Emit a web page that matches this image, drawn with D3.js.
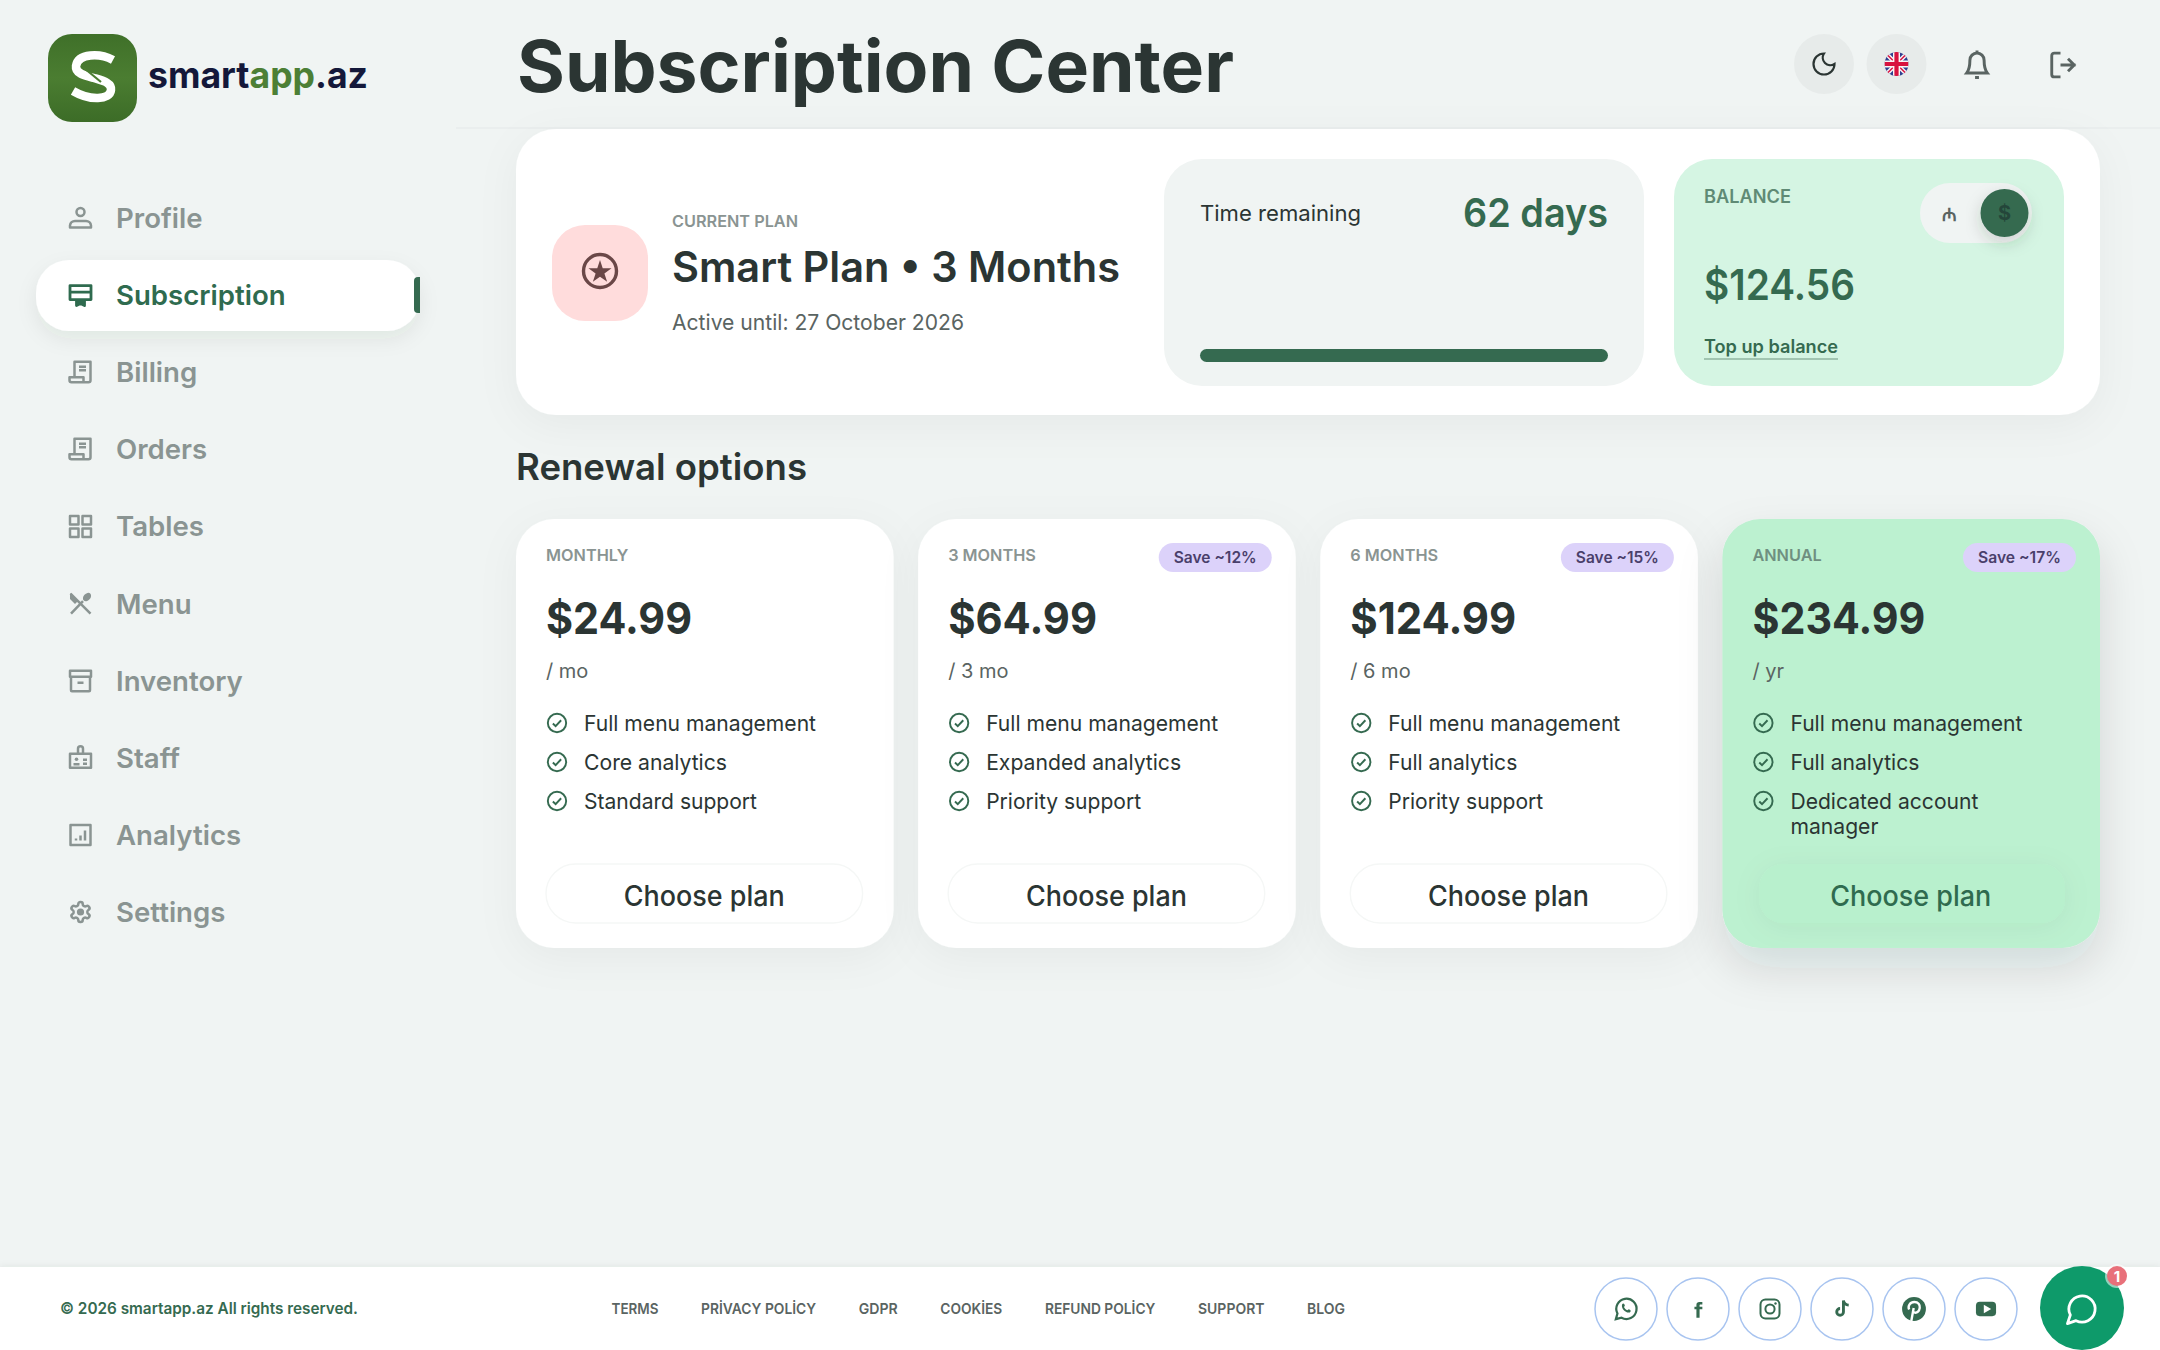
<!DOCTYPE html>
<html>
<head>
<meta charset="utf-8">
<title>Subscription Center</title>
<script src="https://cdn.jsdelivr.net/npm/d3@7"></script>
<style>
  html, body { margin: 0; padding: 0; background: #f0f4f3; }
  svg { display: block; }
  text { font-family: Inter, "Noto Sans", sans-serif; }
</style>
</head>
<body>
<div id="container"></div>
<script>
/* DATA */
const navItems = ["Profile", "Subscription", "Billing", "Orders", "Tables", "Menu", "Inventory", "Staff", "Analytics", "Settings"];
const activeNav = "Subscription";

const planKeys = ["monthly", "quarter", "half", "annual"];
const planLabels = ["MONTHLY", "3 MONTHS", "6 MONTHS", "ANNUAL"];
const planPrices = [24.99, 64.99, 124.99, 234.99];
const planPeriods = ["/ mo", "/ 3 mo", "/ 6 mo", "/ yr"];
const planSaves = [null, "Save ~12%", "Save ~15%", "Save ~17%"];
const planFeatures = [
  ["Full menu management", "Core analytics", "Standard support"],
  ["Full menu management", "Expanded analytics", "Priority support"],
  ["Full menu management", "Full analytics", "Priority support"],
  ["Full menu management", "Full analytics", "Dedicated account|manager"]
];

const daysRemaining = 62;
const daysTotal = 62;
const balance = 124.56;

const footerLinks = ["TERMS", "PRİVACY POLİCY", "GDPR", "COOKİES", "REFUND POLİCY", "SUPPORT", "BLOG"];
const socials = ["whatsapp", "facebook", "instagram", "tiktok", "pinterest", "youtube"];

/* CONSTANTS */
const width = 2160, height = 1350;
const ink = "#2b3533", grey = "#8a9492", mid = "#5a6462", green = "#356a50";
const money = d3.format("$.2f");

// nav icons are drawn on a 24 box
const gearPath = "M12.22 2h-.44a2 2 0 0 0-2 2v.18a2 2 0 0 1-1 1.73l-.43.25a2 2 0 0 1-2 0l-.15-.08a2 2 0 0 0-2.73.73l-.22.38a2 2 0 0 0 .73 2.73l.15.1a2 2 0 0 1 1 1.72v.51a2 2 0 0 1-1 1.74l-.15.09a2 2 0 0 0-.73 2.73l.22.38a2 2 0 0 0 2.73.73l.15-.08a2 2 0 0 1 2 0l.43.25a2 2 0 0 1 1 1.73V20a2 2 0 0 0 2 2h.44a2 2 0 0 0 2-2v-.18a2 2 0 0 1 1-1.73l.43-.25a2 2 0 0 1 2 0l.15.08a2 2 0 0 0 2.73-.73l.22-.39a2 2 0 0 0-.73-2.73l-.15-.08a2 2 0 0 1-1-1.74v-.5a2 2 0 0 1 1-1.74l.15-.09a2 2 0 0 0 .73-2.73l-.22-.38a2 2 0 0 0-2.73-.73l-.15.08a2 2 0 0 1-2 0l-.43-.25a2 2 0 0 1-1-1.73V4a2 2 0 0 0-2-2z";
const receipt = "M6 1.500h16v18.500a2 2 0 0 1-2 2H3a2 2 0 0 1-2-2v-3h5zM1 17h14v4.500M10.500 6.500h7M10.500 10h7";
const navIcons = {
  Profile: "M12 2a4 4 0 1 1 0 8a4 4 0 1 1 0-8zM1.500 21.500v-2a5 5 0 0 1 5-4.500h11a5 5 0 0 1 5 4.500v2z",
  Subscription: "M1.500 2.500h21v14h-21zM1.500 9h21M8 16.500v6l4-2l4 2v-6",
  Billing: receipt,
  Orders: receipt,
  Tables: "M1.500 1.500h8.500v8.500h-8.500zM14 1.500h8.500v8.500h-8.500zM1.500 14h8.500v8.500h-8.500zM14 14h8.500v8.500h-8.500z",
  Menu: "M2 2L22 22M2.500 22L14.500 9.500",
  Inventory: "M1.500 2h21v6h-21zM2.500 8v13.500a1 1 0 0 0 1 1h17a1 1 0 0 0 1-1V8M9 14h6",
  Staff: "M1.500 8h21v14h-21zM9.500 8V3a2.500 2.500 0 0 1 5 0v5M5 18.500h6M14.500 14h4M14.500 18h4",
  Analytics: "M2 2h20v20h-20zM7.500 17.500v-2M12 17.500v-5M16.500 17.500V7.500",
  Settings: gearPath
};

const socialIcons = {
  whatsapp: g => {
    g.append("path").attr("d", "M3 21l1.400-5A9 9 0 1 1 8 19.700z").attr("fill", "none").attr("stroke", green).attr("stroke-width", 2);
    g.append("path").attr("d", "M8.500 8c1-1.500 2-.8 2.500 1l-.8 1.200c.6 1.400 1.600 2.300 3 3l1.200-.9c1.800.6 2.400 1.600 1 2.700c-3.200 1.200-8-3.400-6.900-7z").attr("fill", green);
  },
  facebook: g => g.append("path").attr("d", "M14 9h3.500v3.400H14V23h-4V12.400H7.500V9H10V6.500C10 4 11.500 3 13.600 3h3.900v3.200h-2.200c-1 0-1.300.4-1.300 1.300z").attr("fill", green),
  instagram: g => {
    g.append("rect").attr("x", 2.5).attr("y", 2.5).attr("width", 19).attr("height", 19).attr("rx", 5).attr("fill", "none").attr("stroke", green).attr("stroke-width", 2);
    g.append("circle").attr("cx", 12).attr("cy", 12).attr("r", 4.6).attr("fill", "none").attr("stroke", green).attr("stroke-width", 2);
    g.append("circle").attr("cx", 17.5).attr("cy", 6.5).attr("r", 1.2).attr("fill", green);
  },
  tiktok: g => g.append("path").attr("d", "M13.500 3v12a3.500 3.500 0 1 1-3.500-3.500M13.500 3c.5 3 2.500 4.800 5.500 5").attr("fill", "none").attr("stroke", green).attr("stroke-width", 3),
  pinterest: g => {
    g.append("circle").attr("cx", 12).attr("cy", 12).attr("r", 11).attr("fill", green);
    g.append("path").attr("d", "M9.500 23l2.200-12M7.500 12.500c-1.500-3.500 1-7 4.800-7c3.600 0 5.400 2.500 5 5.400c-.4 3-2.400 4.800-4.500 4.500c-1.200-.2-1.700-1-1.900-1.600").attr("fill", "none").attr("stroke", "#fff").attr("stroke-width", 2.2);
  },
  youtube: g => {
    g.append("rect").attr("x", 1.5).attr("y", 4.5).attr("width", 21).attr("height", 15).attr("rx", 4).attr("fill", green);
    g.append("path").attr("d", d3.symbol(d3.symbolTriangle, 34)()).attr("transform", "translate(12.3,12) rotate(90)").attr("fill", "#fff");
  }
};

/* SCALES */
const navY = d3.scalePoint().domain(navItems).range([218, 912]);
const planX = d3.scaleBand().domain(planKeys).range([516, 2100]).paddingInner(0.061);
const featureY = d3.scalePoint().domain([0, 1, 2]).range([723, 801]);
const progressX = d3.scaleLinear().domain([0, daysTotal]).range([1200, 1608]);
const socialX = d3.scalePoint().domain(socials).range([1626, 1986]);
// widths of the footer links
const linkWidths = [47, 115, 39, 62, 110.5, 66.5, 38];
const linkGap = 42.6;

/* SVG */
const svg = d3.select("#container").append("svg")
  .attr("width", width)
  .attr("height", height)
  .attr("viewBox", `0 0 ${width} ${height}`);

const defs = svg.append("defs");
function shadow(id, dy, blur, op) {
  defs.append("filter").attr("id", id)
    .attr("x", "-30%").attr("y", "-30%").attr("width", "160%").attr("height", "170%")
    .append("feDropShadow")
    .attr("dx", 0).attr("dy", dy).attr("stdDeviation", blur)
    .attr("flood-color", "#1c3a2e").attr("flood-opacity", op);
}
shadow("cardShadow", 10, 20, 0.045);
shadow("annualShadow", 20, 22, 0.13);
shadow("pillShadow", 8, 10, 0.07);
shadow("knobShadow", 6, 8, 0.18);
shadow("btnShadow", 4, 14, 0.05);
shadow("footShadow", -1, 3, 0.06);

const tile = defs.append("linearGradient").attr("id", "tileFill").attr("x1", 0).attr("x2", 0).attr("y1", 0).attr("y2", 1);
tile.append("stop").attr("offset", "0%").attr("stop-color", "#3f7029");
tile.append("stop").attr("offset", "50%").attr("stop-color", "#4b7d31");
tile.append("stop").attr("offset", "100%").attr("stop-color", "#3c6c27");

defs.append("clipPath").attr("id", "flagClip").append("circle").attr("cx", 12).attr("cy", 12).attr("r", 12);

// little helper for every label, w squeezes the text to the width seen in the picture
function label(parent, x, y, str, o) {
  const t = parent.append("text")
    .attr("x", x).attr("y", y)
    .attr("font-size", o.size)
    .attr("font-weight", o.weight || 400)
    .attr("fill", o.fill || ink)
    .attr("text-anchor", o.anchor || "start")
    .text(str);
  if (o.w) t.attr("textLength", o.w).attr("lengthAdjust", "spacingAndGlyphs");
  return t;
}

function icon(parent, x, y, size, box = 24) {
  return parent.append("g").attr("transform", `translate(${x - size / 2},${y - size / 2}) scale(${size / box})`);
}

/* BACKGROUND */
svg.append("rect").attr("width", width).attr("height", height).attr("fill", "#f0f4f3");
svg.append("line").attr("x1", 456).attr("x2", width).attr("y1", 128).attr("y2", 128).attr("stroke", "#e9edec").attr("stroke-width", 1.5);

/* LOGO */
const logo = svg.append("g");
logo.append("rect").attr("x", 48).attr("y", 34).attr("width", 89).attr("height", 88).attr("rx", 24).attr("fill", "url(#tileFill)");
logo.append("path")
  .attr("d", "M113 60C100 53 78 53 76 66C75 74 86 76 94 78C104 81 112 83 111 90C110 100 90 101 73 91")
  .attr("fill", "none").attr("stroke", "#fff").attr("stroke-width", 8.5);
logo.append("path").attr("d", "M84 68L101 82").attr("stroke", "#4b7d31").attr("stroke-width", 2.2);
const logoText = label(logo, 148, 88, null, { size: 36, weight: 700, fill: "#14183a", w: 220 });
logoText.append("tspan").text("smart");
logoText.append("tspan").attr("fill", "#4c7f35").text("app");
logoText.append("tspan").text(".az");

/* SIDEBAR */
svg.append("rect").attr("x", 36).attr("y", 260).attr("width", 384).attr("height", 71).attr("rx", 33)
  .attr("fill", "#fff").attr("filter", "url(#pillShadow)");
svg.append("path").attr("d", "M420 277h-2a4 4 0 0 0-4 4v28a4 4 0 0 0 4 4h2z").attr("fill", green);

const nav = svg.selectAll("g.nav")
  .data(navItems)
  .join("g")
  .attr("class", "nav");

nav.each(function (d) {
  const g = d3.select(this);
  const on = d === activeNav;
  const col = on ? "#2f6b4f" : grey;
  const ic = icon(g, 80.5, navY(d), 24);
  ic.append("path").attr("d", navIcons[d])
    .attr("fill", "none").attr("stroke", col).attr("stroke-width", on ? 2.8 : 2.5).attr("stroke-linejoin", "round");
  if (d === "Subscription") ic.append("path").attr("d", "M8 17h8v6l-4-2l-4 2z").attr("fill", col);
  if (d === "Settings") ic.append("circle").attr("cx", 12).attr("cy", 12).attr("r", 3.6).attr("fill", col);
  if (d === "Menu") {
    ic.append("ellipse").attr("cx", 18.5).attr("cy", 5.5).attr("rx", 3.4).attr("ry", 4.8).attr("transform", "rotate(42 18.5 5.5)").attr("fill", col);
    ic.append("path").attr("d", "M1.500 1.500L9.500 9.500L6.500 12.500L1.500 7.500z").attr("fill", col);
  }
  if (d === "Staff") ic.append("circle").attr("cx", 8).attr("cy", 13.5).attr("r", 1.8).attr("fill", col);
  label(g, 116, navY(d) + 10, d, { size: 27.6, weight: 600, fill: col });
});

/* HEADER */
label(svg, 517, 92, "Subscription Center", { size: 72, weight: 700, w: 717 });

const headerBtns = d3.scalePoint().domain(["moon", "flag"]).range([1824, 1896.5]);
svg.selectAll("circle.hbtn").data(headerBtns.domain()).join("circle")
  .attr("class", "hbtn")
  .attr("cx", d => headerBtns(d)).attr("cy", 64).attr("r", 30).attr("fill", "#e7ebea");
icon(svg, headerBtns("moon"), 64, 28).append("path")
  .attr("d", "M12 3a6.500 6.500 0 0 0 9 9a9 9 0 1 1-9-9z").attr("fill", "none").attr("stroke", ink).attr("stroke-width", 1.9);

const flag = icon(svg, headerBtns("flag"), 64, 24).append("g").attr("clip-path", "url(#flagClip)");
flag.append("rect").attr("width", 24).attr("height", 24).attr("fill", "#2f3f8f");
flag.append("path").attr("d", "M1 1L23 23M23 1L1 23").attr("stroke", "#f8f5f6").attr("stroke-width", 4.4);
flag.append("path").attr("d", "M1 1L23 23M23 1L1 23").attr("stroke", "#d8123f").attr("stroke-width", 1.5);
flag.append("path").attr("d", "M12 0V24M0 12H24").attr("stroke", "#f8f5f6").attr("stroke-width", 7);
flag.append("path").attr("d", "M12 0V24M0 12H24").attr("stroke", "#d8123f").attr("stroke-width", 4.2);

const bell = icon(svg, 1977, 64, 31);
bell.append("path").attr("d", "M6.500 9a5.500 5.500 0 0 1 11 0c0 5 1 8 2.500 10H4c1.500-2 2.500-5 2.500-10zM12 3.500V1.500M10.500 22.500h3")
  .attr("fill", "none").attr("stroke", mid).attr("stroke-width", 2.3);

const door = icon(svg, 2063, 65, 30);
door.append("path").attr("d", "M10 2.500H5a2 2 0 0 0-2 2v15a2 2 0 0 0 2 2h5M16 7l5 5-5 5M22 12H10")
  .attr("fill", "none").attr("stroke", mid).attr("stroke-width", 2.3);

/* CURRENT PLAN */
svg.append("rect").attr("x", 516).attr("y", 129).attr("width", 1584).attr("height", 286).attr("rx", 40)
  .attr("fill", "#fff").attr("filter", "url(#cardShadow)");
svg.append("rect").attr("x", 552).attr("y", 225).attr("width", 96).attr("height", 96).attr("rx", 33).attr("fill", "#ffdcdc");
svg.append("circle").attr("cx", 600).attr("cy", 271).attr("r", 16.5).attr("fill", "none").attr("stroke", "#6a4747").attr("stroke-width", 3.4);
svg.append("path").attr("d", d3.symbol(d3.symbolStar, 165)()).attr("transform", "translate(600,272)").attr("fill", "#6a4747");

label(svg, 672, 227, "CURRENT PLAN", { size: 16, weight: 600, fill: grey, w: 126 });
label(svg, 672, 282, "Smart Plan • 3 Months", { size: 42, weight: 600, w: 448 });
label(svg, 672, 330, "Active until: 27 October 2026", { size: 22, fill: mid, w: 292 });

/* TIME REMAINING */
svg.append("rect").attr("x", 1164).attr("y", 159).attr("width", 480).attr("height", 227).attr("rx", 38).attr("fill", "#f0f4f3");
label(svg, 1200, 221, "Time remaining", { size: 22, w: 161 });
label(svg, 1608, 227, `${daysRemaining} days`, { size: 40, weight: 600, fill: green, anchor: "end", w: 145 });
svg.append("rect").attr("x", progressX(0)).attr("y", 349).attr("width", progressX(daysRemaining) - progressX(0)).attr("height", 13).attr("rx", 6.5).attr("fill", green);

/* BALANCE */
svg.append("rect").attr("x", 1674).attr("y", 159).attr("width", 390).attr("height", 227).attr("rx", 38).attr("fill", "#d5f5e3");
label(svg, 1704, 203, "BALANCE", { size: 18, weight: 600, fill: "#5f8a75", w: 87 });
svg.append("rect").attr("x", 1920).attr("y", 183).attr("width", 112).attr("height", 60).attr("rx", 30).attr("fill", "#f0f4f3");
svg.append("circle").attr("cx", 2004.5).attr("cy", 213).attr("r", 24).attr("fill", green).attr("filter", "url(#knobShadow)");
label(svg, 2004.5, 220, "$", { size: 20, weight: 700, fill: "#24463a", anchor: "middle" });
label(svg, 1949.5, 221, "₼", { size: 18, weight: 700, fill: mid, anchor: "middle" }).style("font-family", "'DejaVu Sans'");
label(svg, 1704, 300, money(balance), { size: 42, weight: 600, fill: green, w: 151 });
label(svg, 1704, 353, "Top up balance", { size: 18, weight: 600, fill: green, w: 134 });
svg.append("line").attr("x1", 1704).attr("x2", 1838).attr("y1", 359).attr("y2", 359).attr("stroke", "#8fb5a1").attr("stroke-width", 1.4);

/* RENEWAL OPTIONS */
label(svg, 516, 480, "Renewal options", { size: 37, weight: 600, w: 291 });

const cards = svg.selectAll("g.card")
  .data(planKeys)
  .join("g")
  .attr("class", "card")
  .attr("transform", d => `translate(${planX(d)},519)`);

const featureWidths = {
  "Full menu management": 232, "Core analytics": 143, "Standard support": 173,
  "Expanded analytics": 195, "Priority support": 155, "Full analytics": 129,
  "Dedicated account": 188, "manager": 88
};
const priceWidths = [146, 149, 166, 173];

cards.each(function (key, i) {
  const g = d3.select(this);
  const annual = key === "annual";
  const w = planX.bandwidth();
  g.append("rect").attr("width", w).attr("height", 429).attr("rx", 38)
    .attr("fill", annual ? "#bcf1d0" : "#fff")
    .attr("filter", annual ? "url(#annualShadow)" : "url(#cardShadow)");

  label(g, 30, 41.5, planLabels[i], { size: 16.3, weight: 600, fill: annual ? "#6f8f80" : grey });
  if (planSaves[i]) {
    g.append("rect").attr("x", w - 24 - 113).attr("y", 24).attr("width", 113).attr("height", 29).attr("rx", 14.5).attr("fill", "#dcd2fa");
    label(g, w - 24 - 56.5, 44, planSaves[i], { size: 15.5, weight: 600, fill: "#4a3f6b", anchor: "middle", w: 83 });
  }
  label(g, 30, 114.5, money(planPrices[i]), { size: 44, weight: 700, w: priceWidths[i] });
  label(g, 30, 159, planPeriods[i], { size: 20, fill: mid });

  planFeatures[i].forEach((f, j) => {
    const y = featureY(j) - 519;
    const c = icon(g, 41, y, 22);
    c.append("circle").attr("cx", 12).attr("cy", 12).attr("r", 10).attr("fill", "none").attr("stroke", green).attr("stroke-width", 2.1);
    c.append("path").attr("d", "M7.500 12.500l3 3l6-6.500").attr("fill", "none").attr("stroke", green).attr("stroke-width", 2.1);
    f.split("|").forEach((line, k) => {
      label(g, 68, y + 8 + k * 25, line, { size: 22, w: featureWidths[line] });
    });
  });

  const inset = annual ? 37 : 30;
  const btn = g.append("rect").attr("x", inset).attr("y", 345).attr("width", w - inset - (annual ? 35 : 31)).attr("height", 59).attr("rx", annual ? 24 : 29.5);
  if (annual) btn.attr("fill", "#b8f0cd").attr("filter", "url(#btnShadow)");
  else btn.attr("fill", "#fff").attr("stroke", "#f5f7f6").attr("stroke-width", 1.4);
  label(g, w / 2 - 0.5, 386.5, "Choose plan", { size: 28, weight: 500, fill: annual ? "#2f6b4f" : ink, anchor: "middle", w: 161 });
});

/* FOOTER */
svg.append("rect").attr("x", 0).attr("y", 1267).attr("width", width).attr("height", 83).attr("fill", "#fff").attr("filter", "url(#footShadow)");
label(svg, 60, 1314, "© 2026 smartapp.az All rights reserved.", { size: 16, weight: 600, fill: green, w: 298 });

let linkLeft = 611.5;
footerLinks.forEach((d, i) => {
  label(svg, linkLeft, 1314, d, { size: 15, weight: 600, fill: mid, w: linkWidths[i] });
  linkLeft += linkWidths[i] + linkGap;
});

const social = svg.selectAll("g.social").data(socials).join("g").attr("class", "social");
social.append("circle")
  .attr("cx", d => socialX(d)).attr("cy", 1309).attr("r", 31)
  .attr("fill", "#fff").attr("stroke", "#a8c4f0").attr("stroke-width", 1.5);
social.each(function (d) {
  const s = { whatsapp: 27, facebook: 19, instagram: 24, tiktok: 23, pinterest: 26, youtube: 23 }[d];
  socialIcons[d](icon(d3.select(this), socialX(d), 1309, s));
});

/* CHAT BUTTON */
svg.append("circle").attr("cx", 2082).attr("cy", 1308).attr("r", 42).attr("fill", "#0e9a6a");
icon(svg, 2082, 1309, 35).append("path").attr("d", "M7.900 20A9 9 0 1 0 4 16.100L2 22Z")
  .attr("fill", "none").attr("stroke", "#fff").attr("stroke-width", 1.9).attr("stroke-linejoin", "round");
svg.append("circle").attr("cx", 2117).attr("cy", 1276).attr("r", 12).attr("fill", "#fff").attr("opacity", 0.55);
svg.append("circle").attr("cx", 2117).attr("cy", 1276).attr("r", 10).attr("fill", "#e8707a");
label(svg, 2117, 1282, "1", { size: 15, weight: 700, fill: "#fff", anchor: "middle" });
</script>
</body>
</html>
